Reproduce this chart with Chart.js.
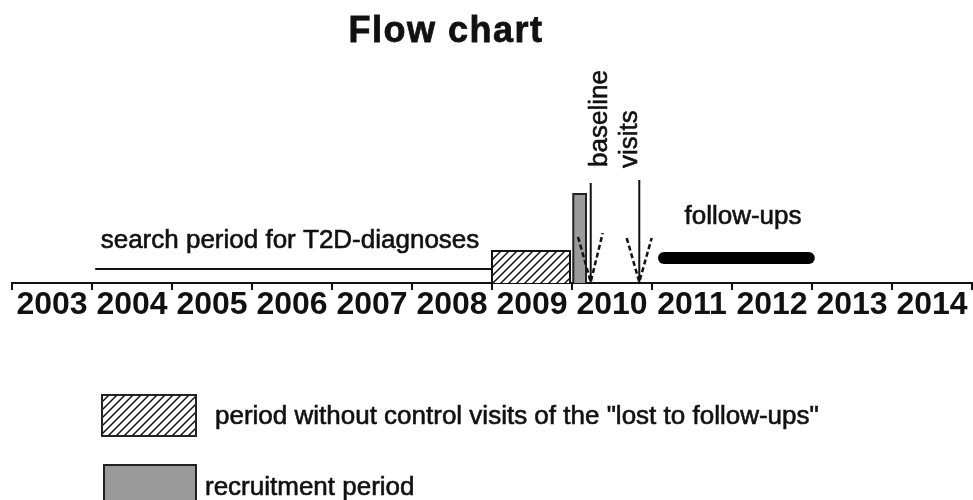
<!DOCTYPE html>
<html><head><meta charset="utf-8">
<script src="https://cdn.jsdelivr.net/npm/chart.js@4/dist/chart.umd.min.js"></script>
<style>html,body{margin:0;padding:0;background:#fff}</style>
</head><body>
<canvas id="c" width="973" height="500"></canvas>
<script>
// ---- data (years on the x axis) ----
const yearTicks   = [2003,2004,2005,2006,2007,2008,2009,2010,2011,2012,2013,2014,2015];
const yearLabels  = ['2003','2004','2005','2006','2007','2008','2009','2010','2011','2012','2013','2014'];
const searchPeriod = [2004.04, 2009.0];      // start, end
const lostPeriod   = [2009.0, 2009.975];     // start, end
const recruitment  = [2010.016, 2010.175];   // start, end
const followUps    = [2011.15, 2012.96];     // start, end
const visitYears   = [2010.234, 2010.841];   // baseline visits arrows
const visitWingL   = [2010.075, 2010.684];
const visitWingR   = [2010.384, 2010.996];
const visitLabels  = ['baseline', 'visits'];
const visitLabelX  = [2010.4375, 2010.809];

// vertical levels (arbitrary units above the time axis)
const LV = { search:14, lost:32, recruit:89, follow:25, arrowTop:[100,103], wingL:[46,45], wingR:[50,45] };

const FONT = '"Liberation Sans", Arial, Helvetica, sans-serif';
const INK = '#111';

function hatchPattern(){
  const p = document.createElement('canvas'); p.width = 8; p.height = 8;
  const g = p.getContext('2d');
  g.fillStyle = '#fff'; g.fillRect(0,0,8,8);
  g.strokeStyle = INK; g.lineWidth = 1.5; g.lineCap = 'square';
  g.beginPath();
  g.moveTo(0,8); g.lineTo(8,0);
  g.moveTo(-2,2); g.lineTo(2,-2);
  g.moveTo(6,10); g.lineTo(10,6);
  g.stroke();
  return document.getElementById('c').getContext('2d').createPattern(p,'repeat');
}
const HATCH = hatchPattern();

function rect(x0, x1, h){ return [{x:x0,y:0},{x:x0,y:h},{x:x1,y:h},{x:x1,y:0}]; }
const base = { showLine:true, pointRadius:0, tension:0, fill:false };

const datasets = [
  Object.assign({}, base, { label:'search', order:5, data:[{x:searchPeriod[0],y:LV.search},{x:searchPeriod[1],y:LV.search}], borderColor:INK, borderWidth:2 }),
  Object.assign({}, base, { label:'lost', order:10, data:rect(lostPeriod[0], lostPeriod[1], LV.lost), borderColor:INK, borderWidth:2, fill:'origin', backgroundColor:HATCH }),
  Object.assign({}, base, { label:'recruit', order:10, data:rect(recruitment[0], recruitment[1], LV.recruit), borderColor:'#222', borderWidth:2, fill:'origin', backgroundColor:'#9a9a9a' }),
  Object.assign({}, base, { label:'follow', order:5, data:[{x:followUps[0],y:LV.follow},{x:followUps[1],y:LV.follow}], borderColor:'#000', borderWidth:12, borderCapStyle:'round' }),
];
visitYears.forEach((vx, i) => {
  datasets.push(Object.assign({}, base, { label:'arrow'+i, order:1, data:[{x:vx,y:0},{x:vx,y:LV.arrowTop[i]}], borderColor:INK, borderWidth:2 }));
  datasets.push(Object.assign({}, base, { label:'wing'+i, order:0, data:[{x:visitWingL[i],y:LV.wingL[i]},{x:vx,y:1},{x:visitWingR[i],y:LV.wingR[i]}], borderColor:INK, borderWidth:2.5, borderDash:[5,3] }));
});

const annotations = [
  { text:'search period for T2D-diagnoses', x:2006.475, y:35.3, align:'center', rot:0 },
  { text:'follow-ups', x:2012.1375, y:59, align:'center', rot:0 },
  { text:visitLabels[0], x:visitLabelX[0], y:116, align:'left', rot:-Math.PI/2 },
  { text:visitLabels[1], x:visitLabelX[1], y:115, align:'left', rot:-Math.PI/2 },
];

const textPlugin = {
  id:'texts',
  afterDraw(chart){
    const ctx = chart.ctx, xs = chart.scales.x, ys = chart.scales.y;
    ctx.save();
    ctx.fillStyle = INK; ctx.strokeStyle = INK; ctx.lineWidth = 0.6;
    ctx.font = '26px ' + FONT; ctx.textBaseline = 'alphabetic';
    annotations.forEach(a => {
      ctx.save();
      ctx.translate(xs.getPixelForValue(a.x), ys.getPixelForValue(a.y));
      ctx.rotate(a.rot); ctx.textAlign = a.align;
      ctx.fillText(a.text, 0, 0); ctx.strokeText(a.text, 0, 0);
      ctx.restore();
    });
    // title
    ctx.font = 'bold 36px ' + FONT; ctx.textAlign = 'center';
    if ('letterSpacing' in ctx) ctx.letterSpacing = '1.5px';
    ctx.fillText('Flow chart', 446, 42);
    ctx.lineWidth = 0.8; ctx.strokeText('Flow chart', 446, 42);
    if ('letterSpacing' in ctx) ctx.letterSpacing = '0px';
    // legend
    ctx.lineWidth = 2; ctx.strokeStyle = '#222';
    ctx.fillStyle = HATCH; ctx.fillRect(102, 395, 94, 41); ctx.strokeRect(102, 395, 94, 41);
    ctx.fillStyle = '#9a9a9a'; ctx.fillRect(104, 465, 92, 40); ctx.strokeRect(104, 465, 92, 40);
    ctx.fillStyle = INK; ctx.strokeStyle = INK; ctx.lineWidth = 0.6;
    ctx.font = '26px ' + FONT; ctx.textAlign = 'left';
    ctx.fillText('period without control visits of the "lost to follow-ups"', 215, 424);
    ctx.strokeText('period without control visits of the "lost to follow-ups"', 215, 424);
    ctx.fillText('recruitment period', 205, 495);
    ctx.strokeText('recruitment period', 205, 495);
    ctx.restore();
  }
};

new Chart(document.getElementById('c'), {
  type:'scatter',
  data:{ datasets },
  plugins:[textPlugin],
  options:{
    responsive:false, devicePixelRatio:1, animation:false, events:[],
    layout:{ padding:{ left:12, right:1, top:53, bottom:177 } },
    plugins:{ legend:{display:false}, tooltip:{enabled:false}, title:{display:false} },
    scales:{
      x:{
        type:'linear', min:yearTicks[0], max:yearTicks[yearTicks.length-1],
        afterBuildTicks(s){ s.ticks = yearTicks.map(v => ({value:v})); },
        afterFit(s){ s.paddingLeft = 0; s.paddingRight = 0; s.height = 40; },
        border:{ display:true, color:INK, width:2 },
        grid:{ drawOnChartArea:false, drawTicks:true, tickLength:7, color:INK, lineWidth:2 },
        ticks:{ autoSkip:false, maxRotation:0, padding:-4, labelOffset:40, color:INK,
          font:{ family:FONT, size:32, weight:'bold' },
          callback:(v, i) => yearLabels[i] !== undefined ? yearLabels[i] : '' }
      },
      y:{ display:false, min:0, max:230 }
    }
  }
});
</script>
</body></html>
